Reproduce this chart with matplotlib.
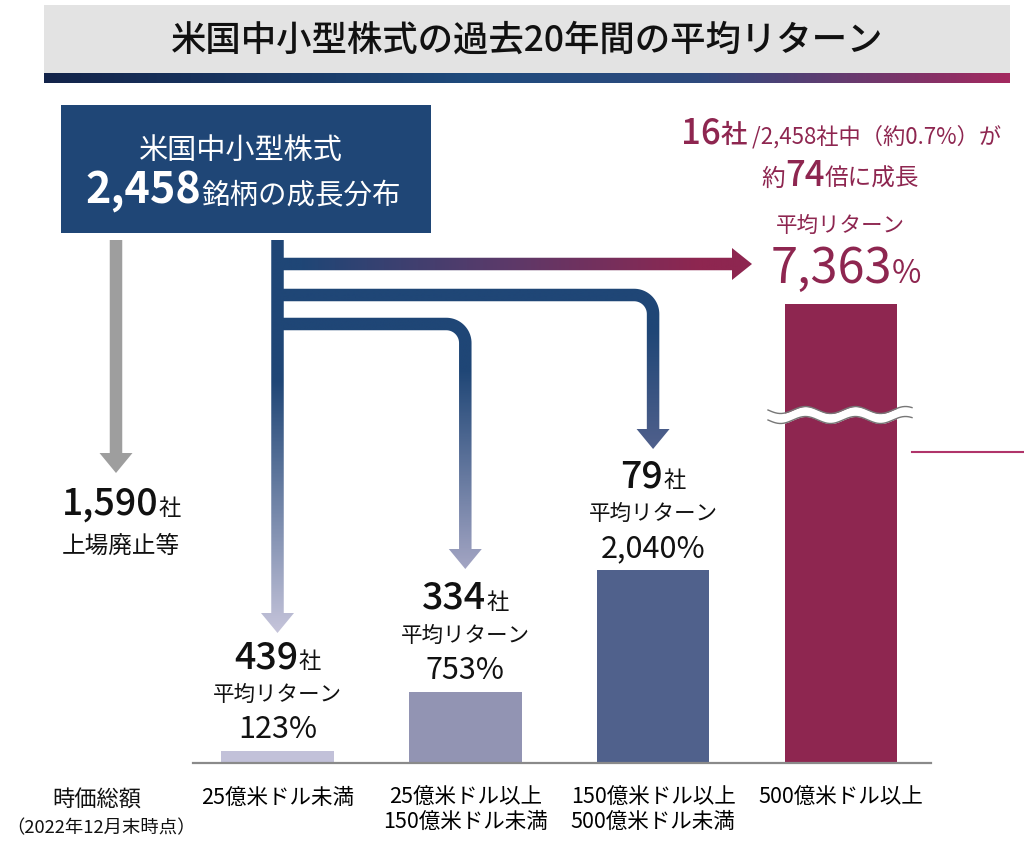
import numpy as np
import matplotlib
matplotlib.use("Agg")
import matplotlib.pyplot as plt
from matplotlib.patches import Polygon, Rectangle
from matplotlib.colors import LinearSegmentedColormap

plt.rcParams['font.family'] = ['Noto Sans CJK JP', 'DejaVu Sans']

# data
cap_labels = ['25億米ドル未満', '25億米ドル以上\n150億米ドル未満',
              '150億米ドル以上\n500億米ドル未満', '500億米ドル以上']
companies = [439, 334, 79, 16]
avg_return = [123, 753, 2040, 7363]
total_companies = 2458
delisted = 1590
growth_multiple = 74
share_pct = 0.7

NAVY = '#1f4676'
MAGENTA = '#8e2650'
bar_colors = ['#c2c1d9', '#9294b3', '#50618c', MAGENTA]

fig = plt.figure(figsize=(10.24, 8.46), dpi=100)

# bar axes: baseline at y=763px, top of the (broken) plot at y=304px
L, R, B, T = 193, 931, 763, 304
bx = fig.add_axes([L / 1024, (846 - B) / 846, (R - L) / 1024, (B - T) / 846])
x = np.arange(len(avg_return))
bx.bar(x, avg_return, width=0.6, color=bar_colors)
bx.set_xlim(-0.45, 3.48)
bx.set_ylim(0, 4856)
bx.patch.set_visible(False)
for s in ['top', 'right', 'left']:
    bx.spines[s].set_visible(False)
bx.spines['bottom'].set_color('#8a8a8a')
bx.spines['bottom'].set_linewidth(1.6)
bx.set_yticks([])
bx.set_xticks(x)
bx.set_xticklabels(cap_labels, fontsize=15.5, linespacing=1.15)
bx.tick_params(axis='x', length=0, pad=17)

# overlay in pixel units for the infographic parts
ax = fig.add_axes([0, 0, 1, 1])
ax.set_xlim(0, 1024)
ax.set_ylim(846, 0)
ax.axis('off')

renderer = fig.canvas.get_renderer()


def put_run(x, y, parts, ha='center'):
    # parts: (text, size, weight, color), all on one baseline
    items = []
    for s, size, weight, color in parts:
        t = ax.text(0, y, s, fontsize=size, fontweight=weight, color=color,
                    va='baseline', ha='left')
        items.append((t, t.get_window_extent(renderer=renderer).width))
    width = sum(w for _, w in items)
    pos = x - width / 2 if ha == 'center' else x
    for t, w in items:
        t.set_x(pos)
        pos += w


def grad_fill(poly, colors, direction, lo, hi):
    cmap = LinearSegmentedColormap.from_list('g', colors)
    poly.set_facecolor('none')
    poly.set_edgecolor('none')
    ax.add_patch(poly)
    xy = poly.get_xy()
    x0, x1 = xy[:, 0].min(), xy[:, 0].max()
    y0, y1 = xy[:, 1].min(), xy[:, 1].max()
    if direction == 'v':
        vals = np.clip((np.linspace(y0, y1, 300) - lo) / (hi - lo), 0, 1)[:, None]
    else:
        vals = np.clip((np.linspace(x0, x1, 300) - lo) / (hi - lo), 0, 1)[None, :]
    im = ax.imshow(vals, cmap=cmap, vmin=0, vmax=1, extent=[x0, x1, y0, y1],
                   origin='lower', aspect='auto', interpolation='bilinear')
    im.set_clip_path(poly)


def down_arrow(xc, y0, ytip, t=12.5, hw=16.5, hl=20):
    h = t / 2
    ys = ytip - hl
    return Polygon([(xc - h, y0), (xc + h, y0), (xc + h, ys), (xc + hw, ys),
                    (xc, ytip), (xc - hw, ys), (xc - h, ys)], closed=True)


def right_arrow(x0, yc, xtip, t=12.5, hw=16, hl=20):
    h = t / 2
    xs = xtip - hl
    return Polygon([(x0, yc - h), (xs, yc - h), (xs, yc - hw), (xtip, yc),
                    (xs, yc + hw), (xs, yc + h), (x0, yc + h)], closed=True)


def elbow_arrow(x0, yh, xv, ytip, t=12.5, r=19, hw=16.5, hl=20):
    h = t / 2
    cx, cy = xv - r, yh + r
    th = np.linspace(0, np.pi / 2, 24)
    pts = [(x0, yh - h)]
    pts += [(cx + (r + h) * np.sin(a), cy - (r + h) * np.cos(a)) for a in th]
    ys = ytip - hl
    pts += [(xv + h, ys), (xv + hw, ys), (xv, ytip), (xv - hw, ys), (xv - h, ys)]
    pts += [(cx + (r - h) * np.sin(a), cy - (r - h) * np.cos(a)) for a in th[::-1]]
    pts += [(x0, yh + h)]
    return Polygon(pts, closed=True)


def to_overlay(i, v):
    return ax.transData.inverted().transform(bx.transData.transform((i, v)))


# header
ax.add_patch(Rectangle((44, 5), 966, 68, color='#e3e3e3', lw=0))
ax.text(527, 41, '米国中小型株式の過去20年間の平均リターン', fontsize=25.5,
        fontweight='medium', color='#111111', ha='center', va='center')
band = np.linspace(0, 1, 400)[None, :]
band_cmap = LinearSegmentedColormap.from_list(
    'band', [(0, '#13244a'), (0.45, '#1f4b7d'), (0.68, '#2e4a7e'), (1, '#a3295f')])
ax.imshow(band, cmap=band_cmap, extent=[44, 1010, 73, 83], aspect='auto',
          origin='lower', interpolation='bilinear')

# source box
ax.add_patch(Rectangle((61, 105), 370, 128, color=NAVY, lw=0))
ax.text(241, 151, '米国中小型株式', fontsize=21, color='white',
        ha='center', va='center')
put_run(243, 203, [(f'{total_companies:,}', 31, 'bold', 'white'),
                   ('銘柄の成長分布', 20.5, 'normal', 'white')])

# arrows
gray_arrow = down_arrow(116, 240, 473)
gray_arrow.set_facecolor('#9e9e9e')
gray_arrow.set_edgecolor('none')
ax.add_patch(gray_arrow)

bar_x = [to_overlay(i, 0)[0] for i in x]
grad_fill(right_arrow(277, 264, 752), [NAVY, '#5a3a6a', MAGENTA], 'h', 300, 700)
grad_fill(elbow_arrow(277, 295, bar_x[2], 449), [NAVY, '#50608c'], 'v', 330, 449)
grad_fill(elbow_arrow(277, 324, bar_x[1], 569), [NAVY, '#a3a5c3'], 'v', 370, 569)
grad_fill(down_arrow(bar_x[0], 240, 633), [NAVY, '#c5c4da'], 'v', 380, 633)

# left label
put_run(62, 515, [(f'{delisted:,}', 27, 'medium', '#111111'),
                  ('社', 16, 'normal', '#111111')], ha='left')
ax.text(62, 546, '上場廃止等', fontsize=17, color='#111111', ha='left', va='center')

# labels above the first three bars
for i in range(3):
    xc, ytop = to_overlay(i, avg_return[i])
    yb = ytop - 13
    ax.text(xc, yb, f'{avg_return[i]:,}%', fontsize=22, color='#111111',
            ha='center', va='baseline')
    ax.text(xc, yb - 43, '平均リターン', fontsize=15.5, color='#111111',
            ha='center', va='center')
    put_run(xc, yb - 70, [(f'{companies[i]}', 27, 'medium', '#111111'),
                          ('社', 16, 'normal', '#111111')])

# top-right callout for the largest group
x4 = bar_x[3]
put_run(841, 143, [(f'{companies[3]}', 25, 'medium', MAGENTA),
                   ('社', 19, 'medium', MAGENTA),
                   (f' /{total_companies:,}社中（約{share_pct}%）が', 16, 'normal', MAGENTA)])
put_run(840, 186, [('約', 17, 'normal', MAGENTA),
                   (f'{growth_multiple}', 25, 'medium', MAGENTA),
                   ('倍に成長', 17, 'normal', MAGENTA)])
ax.text(x4, 226, '平均リターン', fontsize=15.5, color=MAGENTA, ha='center', va='center')
put_run(846, 283, [(f'{avg_return[3]:,}', 35, 'normal', MAGENTA),
                   ('%', 23, 'normal', MAGENTA)])

# axis-break wave on the tall bar
xw = np.linspace(768, 912, 200)
yw = 410 + 3.5 * np.sin((xw - 768) / 50 * 2 * np.pi)
ax.fill_between(xw, yw, yw + 10, color='white', lw=0)
ax.plot(xw, yw, color='#777777', lw=1.0)
ax.plot(xw, yw + 10, color='#777777', lw=1.0)
ax.plot([912, 1024], [452, 452], color='#b0346a', lw=1.5)

# bottom-left axis caption
ax.text(97, 800, '時価総額', fontsize=16, color='#111111', ha='center', va='center')
ax.text(101, 828, '（2022年12月末時点）', fontsize=13.2, color='#111111',
        ha='center', va='center')

ax.set_xlim(0, 1024)
ax.set_ylim(846, 0)

fig.savefig('out.png', dpi=100)
